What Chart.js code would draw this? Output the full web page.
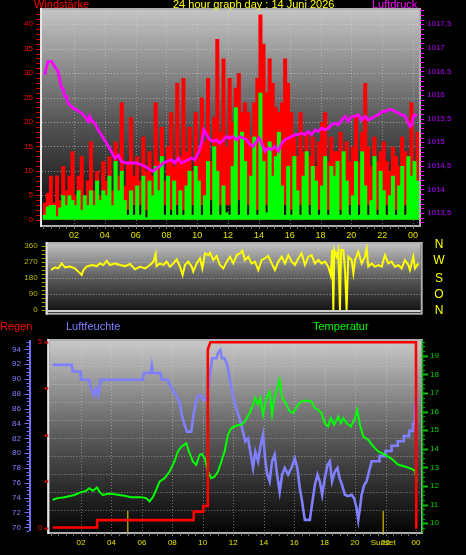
<!DOCTYPE html>
<html><head><meta charset="utf-8">
<script src="https://cdn.jsdelivr.net/npm/chart.js@4.4.1/dist/chart.umd.min.js"></script>
<style>
html,body{margin:0;padding:0;background:#000;width:466px;height:555px;overflow:hidden;}
#wrap{position:relative;width:466px;height:555px;background:#000;}
canvas{position:absolute;left:0;}
.t{position:absolute;font:11px "Liberation Sans",Arial,sans-serif;white-space:nowrap;line-height:12px;}
.d{position:absolute;font:12px "Liberation Sans",Arial,sans-serif;color:#ffff00;width:14px;text-align:center;line-height:12px;left:432px;}
</style></head><body><div id="wrap">
<canvas id="c1" width="466" height="240" style="top:0"></canvas>
<canvas id="c2" width="466" height="80" style="top:240px"></canvas>
<canvas id="c3" width="466" height="235" style="top:320px"></canvas>
<div class="t" style="left:34px;top:-2px;color:#ff0000">Windstärke</div>
<div class="t" style="left:173px;top:-2px;color:#ffff00">24 hour graph day : 14 Juni 2026</div>
<div class="t" style="left:372px;top:-2px;color:#ff00ff">Luftdruck</div>
<div class="d" style="top:238px">N</div>
<div class="d" style="top:254px">W</div>
<div class="d" style="top:272px">S</div>
<div class="d" style="top:288px">O</div>
<div class="d" style="top:304px">N</div>
<div class="t" style="left:0px;top:320px;color:#ff0000">Regen</div>
<div class="t" style="left:66px;top:320px;color:#8080ff">Luftfeuchte</div>
<div class="t" style="left:313px;top:320px;color:#00ff00">Temperatur</div>
</div>
<script>
// ---------- DATA ----------
const hourTicks  = [2,4,6,8,10,12,14,16,18,20,22,24];
const hourLabels = ['02','04','06','08','10','12','14','16','18','20','22','00'];
const sunEvents  = [5.07, 21.85];
const sunLabels  = ['', 'Sunset'];

// wind, one bar every 0.2 h starting at 0.1 h
const W_START = 0.1, W_STEP = 0.2;
const gust = [
 3.5,5.5,9,3.5,9,  4,11,6,9,14,  5,9,13,4,8,  16,6,10,5,12,  8,13,6,16,9,
 24,7,12,21,9,  13,8,17,10,14,  9,24,12,19,8,  15,22,11,28,13,  29,14,19,10,22,
 13,25,16,29,12,  21,37,18,33,15,  29,20,27,30,22,  24,22,17,24,29,  42,36,26,33,28,
 23,22,24,33,28,  22,17,13,22,14,  18,13,17,11,16,  20,22,12,17,14,  14,18,11,16,12,
 15,21,12,18,28,  15,11,17,12,14,  16,12,10,15,13,  11,17,14,12,24,  12,18];
// lower end of each red bar (where the red column stops above the ground)
const gustLow = [
 0,0,0,0,0,  0,0,0,0,0,  0,0,0,0,0,  0,0,0,0,0,  0,0,0,0,0,
 0,0,2,0,3,  0,3,0,2,0,  0,0,0,0,3,  0,2,0,3,0,  2,0,0,3,0,
 0,3,0,0,4,  0,0,3,0,3,  3,0,0,4,0,  0,3,0,0,2,  0,0,3,0,0,
 0,0,0,3,0,  2,0,0,3,0,  0,3,0,0,2,  0,0,2,0,0,  0,2,0,0,3,
 0,0,3,0,0,  3,0,0,2,0,  0,3,0,0,2,  0,0,3,0,0,  0,0];
const avgWind = [
 1,2.7,3,3,0.7,  2.5,5,3,5,4,  3,6,2,5,3,  6,3,8,4,6,  5,9,3,12,6,
 10,4,1,6,1,  7,1,9,0.5,8,  5,11,6,13,1,  9,1,8,1,6,  1,7,10,1,11,
 8,1,5,12,1,  15,10,1,7,1.5,  1,11,23,1,18,  12,1,9,17,1,  26,12,1.5,16,9,
 13,18,7,1,11,  1,13,6,1,9,  14,1,11,8,1,  7,13,1,11,9,  12,1,14,8,1,
 5,12,1,14,7,  1,4,13,1,10,  6,1,5,9,1,  7,11,1,13,9,  12,8];

const pressHours = [0.1,0.3,0.55,0.75,0.97,1.08,1.19,1.29,1.4,1.51,1.62,1.73,1.94,2.16,2.48,2.7,2.92,3.02,3.13,3.35,3.57,3.78,4.11,4.43,4.65,4.87,5.08,5.41,5.73,6.06,6.38,6.6,6.92,7.14,7.35,7.57,7.79,8.0,8.33,8.55,8.76,8.98,9.19,9.41,9.63,9.84,10.06,10.28,10.43,10.6,10.82,11.03,11.25,11.47,11.68,11.9,12.12,12.33,12.55,12.77,12.98,13.2,13.42,13.63,13.85,14.02,14.17,14.39,14.61,14.82,15.04,15.26,15.47,15.69,15.91,16.12,16.34,16.55,16.77,16.99,17.2,17.42,17.64,17.85,18.07,18.29,18.5,18.72,18.94,19.15,19.37,19.59,19.8,20.02,20.24,20.45,20.67,20.89,21.1,21.32,21.54,21.75,21.97,22.19,22.4,22.62,22.84,23.05,23.27,23.49,23.7,23.81,23.92,24.03,24.13,24.24];
const pressure = [1016.43,1016.71,1016.71,1016.6,1016.5,1016.32,1016.15,1016.14,1015.97,1015.97,1015.82,1015.79,1015.72,1015.69,1015.62,1015.55,1015.44,1015.55,1015.47,1015.40,1015.26,1015.16,1014.98,1014.80,1014.66,1014.73,1014.59,1014.56,1014.56,1014.56,1014.52,1014.49,1014.42,1014.38,1014.45,1014.49,1014.56,1014.59,1014.63,1014.56,1014.66,1014.56,1014.59,1014.63,1014.66,1014.63,1014.77,1014.98,1015.26,1015.16,1015.05,1015.02,1015.05,1014.98,1015.05,1015.12,1015.09,1015.12,1015.05,1015.12,1015.09,1015.05,1014.95,1014.91,1015.02,1015.09,1014.98,1014.81,1014.88,1014.84,1014.91,1014.81,1014.98,1015.05,1015.09,1015.12,1015.16,1015.16,1015.19,1015.16,1015.23,1015.16,1015.26,1015.23,1015.30,1015.26,1015.30,1015.37,1015.40,1015.37,1015.47,1015.55,1015.44,1015.55,1015.55,1015.58,1015.47,1015.55,1015.47,1015.51,1015.55,1015.58,1015.65,1015.65,1015.69,1015.69,1015.65,1015.62,1015.58,1015.55,1015.40,1015.33,1015.37,1015.55,1015.58,1015.55];

const dirHours = [0.51,0.77,0.98,1.2,1.42,1.74,2.06,2.28,2.5,2.61,2.82,3.15,3.47,3.69,3.9,4.12,4.34,4.66,4.99,5.31,5.64,5.96,6.28,6.61,6.93,7.15,7.3,7.36,7.58,7.8,8.01,8.23,8.45,8.66,8.88,9.05,9.2,9.42,9.64,9.74,9.96,10.18,10.33,10.5,10.72,10.83,11.04,11.26,11.47,11.69,11.91,12.12,12.34,12.56,12.77,12.92,13.1,13.31,13.53,13.75,13.96,14.18,14.39,14.61,14.83,15.04,15.26,15.48,15.69,15.91,16.13,16.34,16.56,16.77,16.99,17.21,17.42,17.64,17.86,18.07,18.29,18.5,18.66,18.76,18.83,18.89,19.04,19.15,19.26,19.33,19.48,19.59,19.69,19.8,20.02,20.13,20.24,20.45,20.67,20.88,20.99,21.1,21.32,21.53,21.75,21.97,22.18,22.4,22.61,22.83,23.05,23.26,23.48,23.7,23.8,24.02,24.13,24.35];
const direction = [225,240,234,262,240,244,234,216,197,225,244,253,247,262,253,277,253,262,253,247,259,229,244,234,253,272,315,247,262,253,272,244,262,285,244,197,253,272,244,216,262,291,234,319,309,322,281,304,253,234,272,300,262,309,319,334,281,300,262,272,225,281,291,304,262,225,272,300,262,309,272,253,291,319,253,300,309,262,281,262,272,244,197,337,0,337,300,337,0,337,337,225,0,300,281,206,281,328,262,300,347,244,262,244,253,244,309,262,272,244,253,234,281,253,225,300,234,262];

const humHours = [0.14,1.39,1.46,1.96,2.0,2.55,2.66,2.84,2.99,3.14,3.28,6.06,6.13,6.57,6.65,6.72,7.22,7.31,7.71,7.88,8.25,8.47,8.63,8.8,8.96,9.24,9.42,9.64,9.85,10.01,10.23,10.34,10.49,10.62,10.89,11.0,11.15,11.26,11.43,11.61,11.76,11.98,12.2,12.42,12.64,12.79,12.97,13.12,13.3,13.45,13.63,13.8,13.96,14.11,14.24,14.39,14.55,14.72,14.88,15.05,15.21,15.38,15.6,15.82,16.04,16.21,16.37,16.52,16.7,17.03,17.2,17.36,17.53,17.68,17.84,18.01,18.19,18.34,18.49,18.67,18.84,18.99,19.15,19.33,19.55,19.77,19.94,20.1,20.21,20.32,20.43,20.6,20.76,20.91,21.09,21.6,21.6,22.0,22.0,22.4,22.4,22.8,22.8,23.2,23.2,23.55,23.55,23.8,23.8,23.9,23.93,24.1];
const humidity = [91.9,91.9,91.0,91.0,89.9,89.9,88.7,87.8,88.7,87.8,89.9,89.9,90.8,90.8,91.8,90.8,90.8,89.9,89.9,89.0,87.8,86.9,85.1,83.8,82.9,82.9,85.6,87.6,87.8,87.2,87.2,88.3,91.0,92.8,92.8,93.5,93.9,92.8,92.8,91.9,90.1,87.8,86.0,84.7,82.9,81.6,82.0,80.2,78.0,80.2,78.9,81.1,82.5,78.9,77.1,76.2,78.9,79.8,77.1,74.8,77.1,78.0,77.1,78.0,79.3,78.0,75.3,73.5,71.0,71.0,73.5,75.7,77.1,76.2,74.4,76.6,78.4,78.9,76.2,77.5,78.0,76.6,75.7,74.4,74.2,74.4,73.9,72.6,71.0,72.6,74.4,75.7,76.2,77.5,78.9,78.9,79.6,79.6,80.3,80.3,81.0,81.0,81.6,81.6,82.3,82.3,83.0,83.0,84.0,84.0,86.5,87.4];

const tempHours = [0.14,0.47,0.91,1.57,2.0,2.33,2.55,2.77,3.06,3.21,3.43,3.87,4.31,4.85,5.29,5.95,6.28,6.5,6.72,6.94,7.16,7.49,7.82,8.14,8.36,8.58,8.91,9.13,9.35,9.57,9.79,9.94,10.12,10.34,10.55,10.77,11.0,11.22,11.43,11.65,11.87,12.2,12.53,12.75,13.08,13.3,13.45,13.63,13.78,13.96,14.17,14.39,14.55,14.72,14.9,15.05,15.21,15.38,15.71,15.93,16.26,16.48,16.81,17.13,17.36,17.57,17.79,18.01,18.23,18.41,18.63,18.9,19.07,19.22,19.44,19.73,19.99,20.14,20.32,20.54,20.87,21.19,21.52,21.96,22.4,22.84,23.28,23.71,23.93,24.05];
const temperature = [11.26,11.35,11.4,11.52,11.67,11.74,11.88,11.74,11.92,11.7,11.52,11.6,11.55,11.48,11.4,11.4,11.35,11.17,11.4,11.8,12.24,12.42,12.78,13.32,13.86,14.1,14.3,13.77,13.32,13.14,13.68,13.72,13.5,12.78,12.42,12.5,12.78,13.32,13.86,14.75,15.11,15.25,15.29,15.47,15.92,16.37,16.73,16.37,16.73,15.83,16.73,17.08,15.83,16.82,17.26,17.71,16.73,16.55,16.01,15.92,16.37,16.55,16.59,16.55,16.19,16.1,15.92,15.38,15.2,15.65,15.29,15.74,15.38,15.65,15.38,15.2,15.65,16.1,15.29,14.66,14.48,14.13,13.86,13.68,13.46,13.14,13.05,12.92,12.82,12.24];

const rainHours = [0.14,3.06,3.06,9.4,9.4,10.03,10.03,10.3,10.33,10.5,24.0,24.02,24.1];
const rain      = [0,0,0.2,0.2,0.43,0.43,0.58,0.58,4.8,5.0,5.0,0,0];

// ---------- HELPERS ----------
const FONT = "'Liberation Sans', Arial, sans-serif";
function xy(xs, ys){ return ys.map((v,i)=>({x:xs[i], y:v})); }
function xyStep(start, step, ys){ return ys.map((v,i)=>({x:+(start+step*i).toFixed(3), y:v})); }
function xyStepRange(start, step, lo, hi){ return hi.map((v,i)=>({x:+(start+step*i).toFixed(3), y:[lo[i], v]})); }
function range(a, b, s){ const r=[]; for(let v=a; v<=b+1e-9; v+=s) r.push(+v.toFixed(4)); return r; }
function setTicks(vals){ return s => { s.ticks = vals.map(v=>({value:v})); }; }
function fitW(w){ return s => { s.width=w; s.paddingTop=0; s.paddingBottom=0; }; }
function fitH(h){ return s => { s.height=h; s.paddingLeft=0; s.paddingRight=0; }; }
function hourLabel(v){ let i=hourTicks.indexOf(v); if(i>=0) return hourLabels[i]; i=sunEvents.indexOf(v); if(i>=0) return sunLabels[i]; return ''; }

function fillBg(chart, c0, c1){
  const {ctx, chartArea:a} = chart;
  const g = ctx.createLinearGradient(0,a.top,0,a.bottom);
  g.addColorStop(0,c0); g.addColorStop(0.5,'#5a5a5a'); g.addColorStop(1,c1);
  ctx.save(); ctx.fillStyle=g; ctx.fillRect(a.left,a.top,a.right-a.left,a.bottom-a.top); ctx.restore();
}
function dotH(chart, scale, vals, color){
  const {ctx, chartArea:a} = chart;
  ctx.save(); ctx.strokeStyle=color; ctx.lineWidth=1; ctx.setLineDash([1,2]);
  vals.forEach(v=>{ const y=Math.round(scale.getPixelForValue(v))+0.5; ctx.beginPath(); ctx.moveTo(a.left,y); ctx.lineTo(a.right,y); ctx.stroke(); });
  ctx.restore();
}
function dotV(chart, scale, vals, color){
  const {ctx, chartArea:a} = chart;
  ctx.save(); ctx.strokeStyle=color; ctx.lineWidth=1; ctx.setLineDash([1,2]);
  vals.forEach(v=>{ const x=Math.round(scale.getPixelForValue(v))+0.5; ctx.beginPath(); ctx.moveTo(x,a.top); ctx.lineTo(x,a.bottom); ctx.stroke(); });
  ctx.restore();
}
function marksY(ctx, scale, vals, x0, x1, color, w){
  ctx.save(); ctx.strokeStyle=color; ctx.lineWidth=w||1;
  vals.forEach(v=>{ const y=Math.round(scale.getPixelForValue(v))+0.5; if(y<scale.top-1||y>scale.bottom+1) return; ctx.beginPath(); ctx.moveTo(x0,y); ctx.lineTo(x1,y); ctx.stroke(); });
  ctx.restore();
}
function marksX(ctx, scale, vals, y0, y1, color){
  ctx.save(); ctx.strokeStyle=color; ctx.lineWidth=1;
  vals.forEach(v=>{ const x=Math.round(scale.getPixelForValue(v))+0.5; if(x<scale.left||x>scale.right) return; ctx.beginPath(); ctx.moveTo(x,y0); ctx.lineTo(x,y1); ctx.stroke(); });
  ctx.restore();
}
function frame(chart){
  const {ctx, chartArea:a} = chart;
  ctx.save();
  ctx.lineWidth=2; ctx.strokeStyle='#b0b0b0';
  ctx.strokeRect(a.left-1, a.top-1, a.right-a.left+2, a.bottom-a.top+2);
  ctx.strokeStyle='#e4e4e4';
  ctx.beginPath(); ctx.moveTo(a.left-1,a.top-2); ctx.lineTo(a.left-1,a.bottom+2); ctx.stroke();
  ctx.restore();
}
const noGrid = {display:false, drawTicks:false, tickLength:0};
const noBorder = {display:false};
const base = { responsive:false, animation:false, devicePixelRatio:1,
  plugins:{legend:{display:false}, tooltip:{enabled:false}} };

// ---------- CHART 1 : wind + pressure ----------
new Chart(document.getElementById('c1'), {
  type:'bar',
  data:{datasets:[
    {type:'line', data:xy(pressHours,pressure), yAxisID:'yP', borderColor:'#ff00ff', borderWidth:2.8, pointRadius:0, tension:0, order:0},
    {type:'bar', data:xyStep(W_START,W_STEP,avgWind), yAxisID:'y', backgroundColor:'#00ff00', barPercentage:1.3, categoryPercentage:1, grouped:false, inflateAmount:0, order:1},
    {type:'bar', data:xyStepRange(W_START,W_STEP,gustLow,gust), yAxisID:'y', backgroundColor:'#ff0000', barPercentage:1.3, categoryPercentage:1, grouped:false, inflateAmount:0, order:2}
  ]},
  options:Object.assign({}, base, {
    layout:{padding:{top:10,left:0,right:0,bottom:0}},
    scales:{
      x:{type:'linear', offset:false, min:-0.077, max:24.39, grid:noGrid, border:noBorder,
         afterBuildTicks:setTicks(hourTicks), afterFit:fitH(15),
         ticks:{autoSkip:false, maxRotation:0, padding:5, color:'#e0e000', font:{family:FONT,size:9}, callback:v=>hourLabel(v)}},
      y:{position:'left', min:-1.08, max:42.92, grid:noGrid, border:noBorder,
         afterBuildTicks:setTicks(range(0,40,5)), afterFit:fitW(42),
         ticks:{padding:9, color:'#ff0000', font:{family:FONT,size:8}}},
      yP:{position:'right', min:1013.246, max:1017.803, grid:noGrid, border:noBorder,
         afterBuildTicks:setTicks(range(1013.5,1017.5,0.5)), afterFit:fitW(47),
         ticks:{padding:8, color:'#b000ff', font:{family:FONT,size:8}, callback:v=>String(v).replace('.',',')}}
    }
  }),
  plugins:[{id:'deco1',
    beforeDatasetsDraw(chart){
      fillBg(chart,'#c4c4c4','#030303');
      dotH(chart, chart.scales.y, range(5,40,5), 'rgba(215,215,215,0.55)');
      dotV(chart, chart.scales.x, hourTicks, 'rgba(215,215,215,0.45)');
    },
    afterDraw(chart){
      const {ctx, chartArea:a, scales:s} = chart;
      frame(chart);
      marksY(ctx, s.y, range(0,42,1), a.left-6, a.left-2, '#d00000');
      marksY(ctx, s.yP, range(1013.3,1017.8,0.1), a.right+1, a.right+5, '#ff00ff');
      marksX(ctx, s.x, range(0,24,0.5), a.bottom+1, a.bottom+4, '#707070');
    }}]
});

// ---------- CHART 2 : wind direction ----------
new Chart(document.getElementById('c2'), {
  type:'line',
  data:{datasets:[
    {data:xy(dirHours,direction), borderColor:'#ffff00', borderWidth:2, pointRadius:0, tension:0}
  ]},
  options:Object.assign({}, base, {
    layout:{padding:{top:4,left:0,right:45.3,bottom:7.3}},
    scales:{
      x:{type:'linear', display:false, min:0.293, max:24.5},
      y:{position:'left', min:-15.2, max:371.25, grid:noGrid, border:noBorder,
         afterBuildTicks:setTicks([0,90,180,270,360]), afterFit:fitW(47.7),
         ticks:{padding:10, color:'#b8b800', font:{family:FONT,size:8}}}
    }
  }),
  plugins:[{id:'deco2',
    beforeDatasetsDraw(chart){
      fillBg(chart,'#c0c0c0','#101010');
      dotH(chart, chart.scales.y, [90,180,270], 'rgba(225,225,225,0.6)');
      const {ctx, chartArea:a} = chart; const y0 = chart.scales.y.getPixelForValue(0);
      ctx.save(); ctx.strokeStyle='#cfcfcf'; ctx.lineWidth=2; ctx.beginPath(); ctx.moveTo(a.left,y0+1); ctx.lineTo(a.right,y0+1); ctx.stroke(); ctx.restore();
    },
    afterDraw(chart){
      const {ctx, chartArea:a, scales:s} = chart;
      frame(chart);
      marksY(ctx, s.y, range(0,360,22.5), a.left-6, a.left-2, '#a0a000');
    }}]
});

// ---------- CHART 3 : rain, humidity, temperature ----------
new Chart(document.getElementById('c3'), {
  type:'line',
  data:{datasets:[
    {data:xy(rainHours,rain), yAxisID:'yR', borderColor:'#ff0000', borderWidth:2.6, pointRadius:0, tension:0, order:0},
    {data:xy(tempHours,temperature), yAxisID:'yT', borderColor:'#00ff00', borderWidth:2, pointRadius:0, tension:0, order:1},
    {data:xy(humHours,humidity), yAxisID:'yH', borderColor:'#7f7fff', borderWidth:2.6, pointRadius:0, tension:0, order:2}
  ]},
  options:Object.assign({}, base, {
    layout:{padding:{top:21,left:0,right:0,bottom:0}},
    scales:{
      x:{type:'linear', offset:false, min:-0.08, max:24.33, grid:noGrid, border:noBorder,
         afterBuildTicks:setTicks(hourTicks.concat([sunEvents[1]])), afterFit:fitH(23),
         ticks:{autoSkip:false, maxRotation:0, padding:6, color:'#e0e000', font:{family:FONT,size:8}, callback:v=>hourLabel(v)}},
      yH:{position:'left', weight:2, min:69.37, max:95.12, grid:noGrid, border:noBorder,
         afterBuildTicks:setTicks(range(70,94,2)), afterFit:fitW(31),
         ticks:{padding:10, color:'#8080ff', font:{family:FONT,size:8}}},
      yR:{position:'left', weight:1, min:-0.12, max:5.03, grid:noGrid, border:noBorder,
         afterBuildTicks:setTicks([0,5]), afterFit:fitW(18.3),
         ticks:{padding:7, color:'#ff0000', font:{family:FONT,size:8}}},
      yT:{position:'right', min:9.53, max:19.79, grid:noGrid, border:noBorder,
         afterBuildTicks:setTicks(range(10,19,1)), afterFit:fitW(45),
         ticks:{padding:9, color:'#00d000', font:{family:FONT,size:8}}},
      yG:{display:false, min:-0.245, max:10.38}
    }
  }),
  plugins:[{id:'deco3',
    beforeDatasetsDraw(chart){
      fillBg(chart,'#c8c8c8','#040404');
      dotH(chart, chart.scales.yG, range(1,10,1), 'rgba(215,215,215,0.5)');
      dotV(chart, chart.scales.x, hourTicks, 'rgba(215,215,215,0.45)');
      const {ctx, chartArea:a, scales:s} = chart;
      ctx.save(); ctx.strokeStyle='#b09a00'; ctx.lineWidth=1.5;
      sunEvents.forEach(h=>{ const x=s.x.getPixelForValue(h); ctx.beginPath(); ctx.moveTo(x,a.bottom-21); ctx.lineTo(x,a.bottom+3); ctx.stroke(); });
      ctx.restore();
    },
    afterDraw(chart){
      const {ctx, chartArea:a, scales:s} = chart;
      frame(chart);
      ctx.save(); ctx.strokeStyle='#7070ff'; ctx.lineWidth=2; ctx.beginPath(); ctx.moveTo(30,a.top-1); ctx.lineTo(30,a.bottom-1); ctx.stroke(); ctx.restore();
      marksY(ctx, s.yH, range(69.5,95,0.5), 26.5, 29, '#7070ff');
      marksY(ctx, s.yH, range(70,94,2), 24.5, 29, '#7070ff');
      marksY(ctx, s.yR, [0,1.25,2.5,3.75,5], a.left-5, a.left-1, '#d00000', 2);
      ctx.save(); ctx.strokeStyle='#00b000'; ctx.lineWidth=1.5; ctx.beginPath(); ctx.moveTo(a.right+1.5,a.top-1); ctx.lineTo(a.right+1.5,a.bottom+1); ctx.stroke(); ctx.restore();
      marksY(ctx, s.yT, range(9.75,19.75,0.25), a.right+2, a.right+4, '#00b000');
      marksY(ctx, s.yT, range(10,19,1), a.right+2, a.right+7, '#00c000', 2);
      marksX(ctx, s.x, range(0,24,0.5), a.bottom+1, a.bottom+4, '#707070');
    }}]
});
</script>
</body></html>
